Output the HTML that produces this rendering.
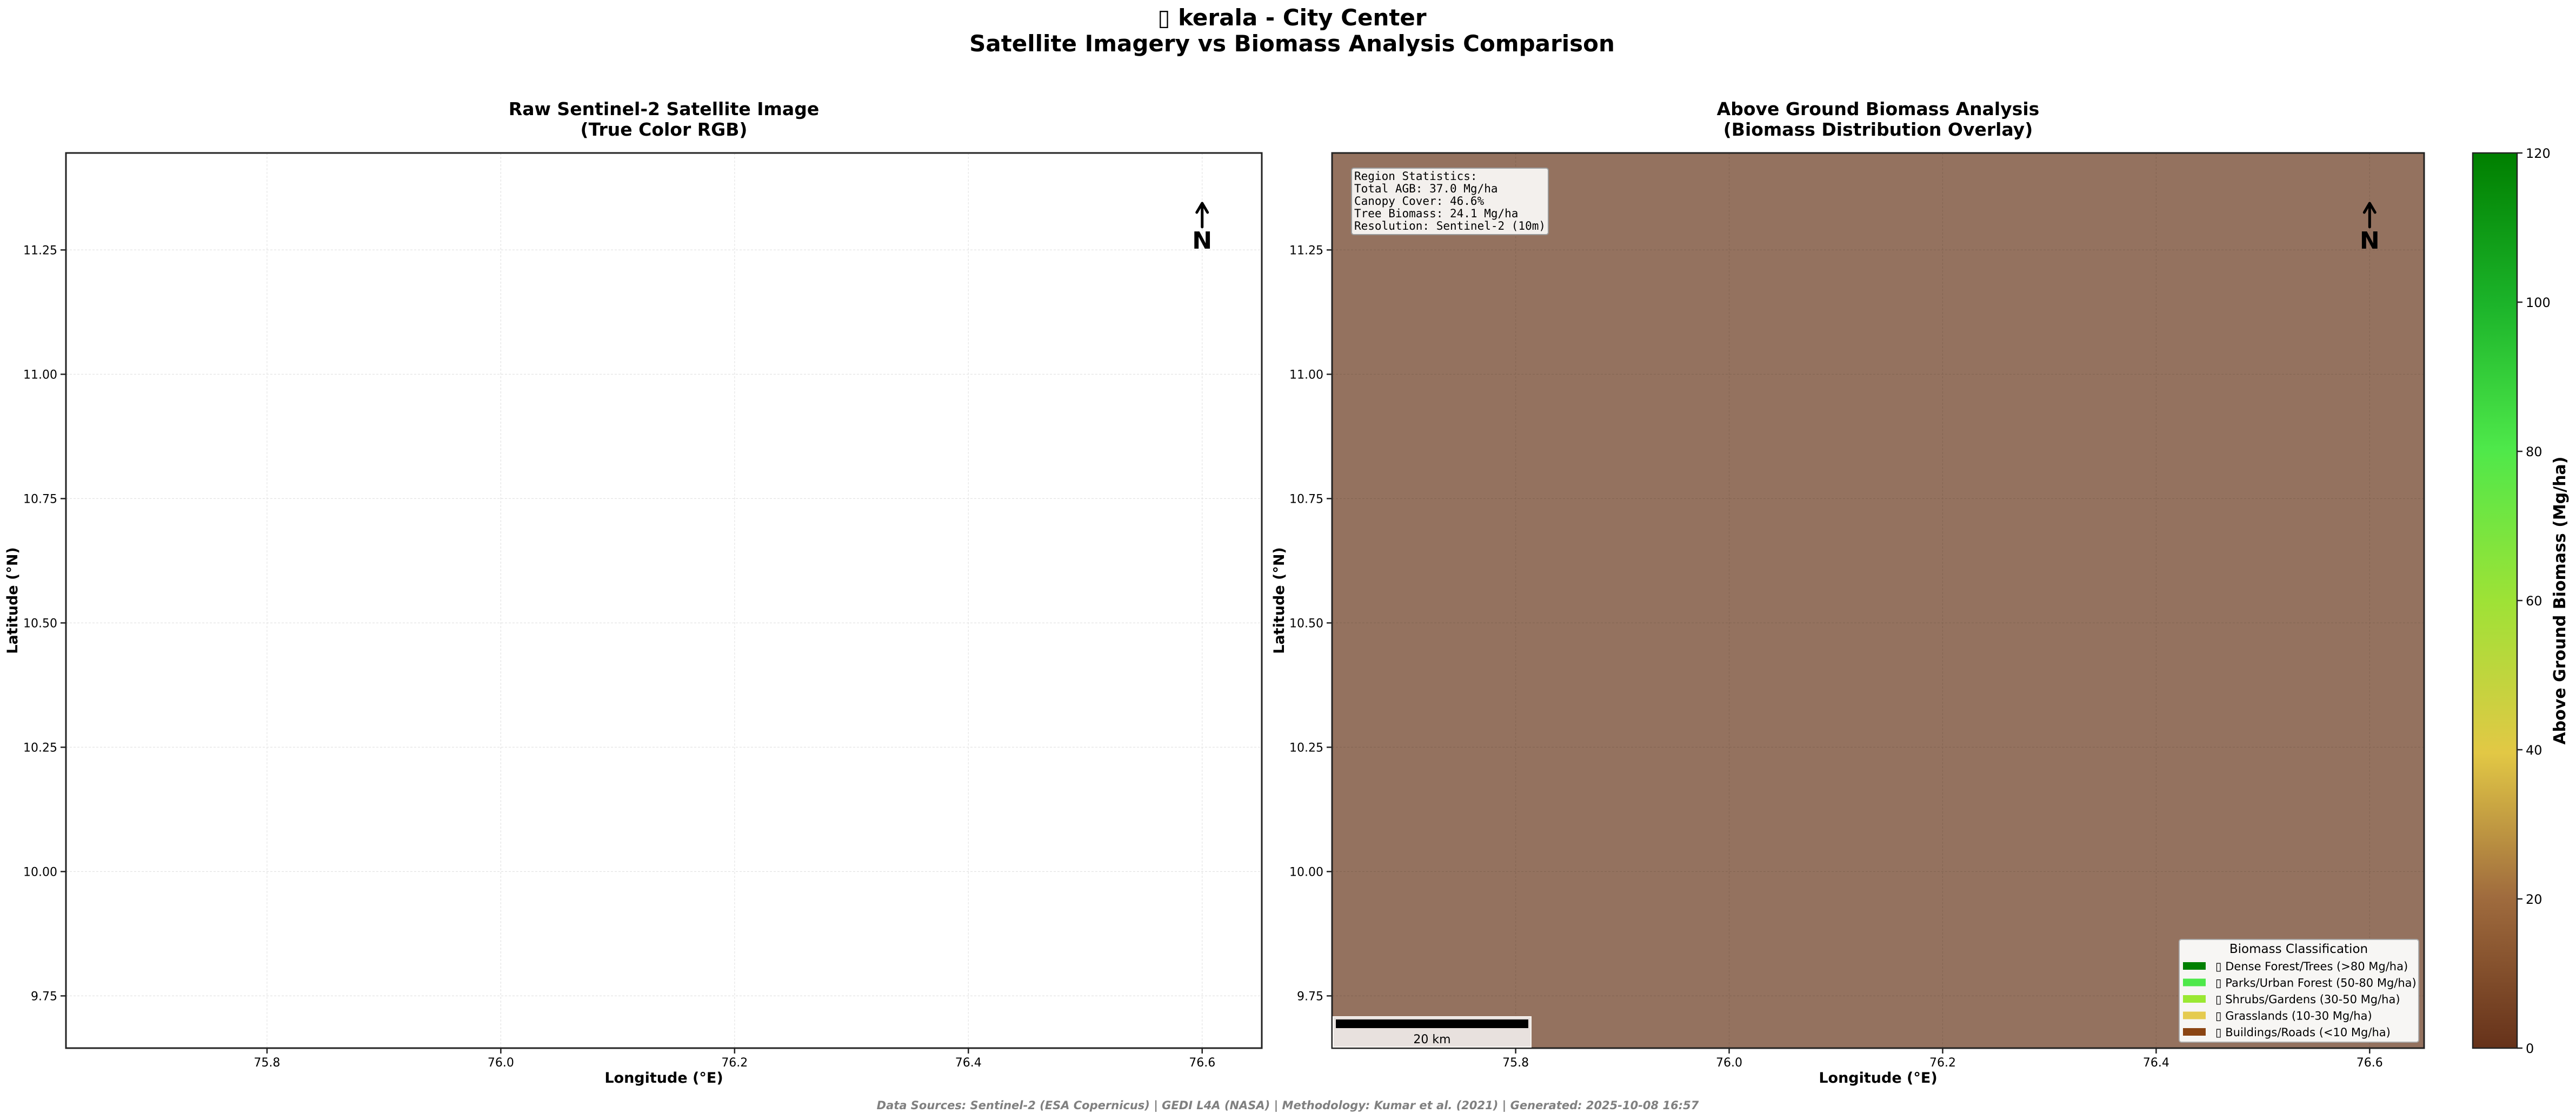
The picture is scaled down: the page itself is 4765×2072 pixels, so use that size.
<!DOCTYPE html>
<html><head><meta charset="utf-8"><style>
html,body{margin:0;padding:0;background:#fff;}
svg{display:block;font-family:"DejaVu Sans","Liberation Sans",sans-serif;}
</style></head><body>
<svg id="fig" width="4765" height="2072" viewBox="0 0 4765 2072" xmlns="http://www.w3.org/2000/svg">
<defs>
<linearGradient id="cbgrad" x1="0" y1="1" x2="0" y2="0">
<stop offset="0" stop-color="#66321a"/>
<stop offset="0.17" stop-color="#a06c3e"/>
<stop offset="0.33" stop-color="#e2c845"/>
<stop offset="0.5" stop-color="#9ee236"/>
<stop offset="0.67" stop-color="#4ee84a"/>
<stop offset="0.83" stop-color="#1cb42a"/>
<stop offset="1" stop-color="#007f00"/>
</linearGradient>
</defs>
<text x="2390" y="47" text-anchor="middle" font-size="42" font-weight="bold">▯ kerala - City Center</text>
<text x="2390" y="95" text-anchor="middle" font-size="42" font-weight="bold">Satellite Imagery vs Biomass Analysis Comparison</text>

<g id="left"></g>
<g id="right"></g>
<g id="cb"></g>

<text x="2382" y="2052" text-anchor="middle" font-size="21" font-weight="bold" font-style="italic" fill="#808080">Data Sources: Sentinel-2 (ESA Copernicus) | GEDI L4A (NASA) | Methodology: Kumar et al. (2021) | Generated: 2025-10-08 16:57</text>
</svg>
<script>
const xTicks = [75.8, 76.0, 76.2, 76.4, 76.6];
const xTickLabels = ["75.8", "76.0", "76.2", "76.4", "76.6"];
const yTicks = [9.75, 10.0, 10.25, 10.5, 10.75, 11.0, 11.25];
const yTickLabels = ["9.75", "10.00", "10.25", "10.50", "10.75", "11.00", "11.25"];
const lonRange = [75.628, 76.651];
const latRange = [9.645, 11.445];
const cbTicks = [0, 20, 40, 60, 80, 100, 120];
const cbRange = [0, 120];
const legendLabels = ["▯ Dense Forest/Trees (>80 Mg/ha)", "▯ Parks/Urban Forest (50-80 Mg/ha)", "▯ Shrubs/Gardens (30-50 Mg/ha)", "▯ Grasslands (10-30 Mg/ha)", "▯ Buildings/Roads (<10 Mg/ha)"];
const legendColors = ["#008000", "#4ee84a", "#9ae832", "#e5cb4f", "#8b4513"];
const statsLines = ["Region Statistics:", "Total AGB: 37.0 Mg/ha", "Canopy Cover: 46.6%", "Tree Biomass: 24.1 Mg/ha", "Resolution: Sentinel-2 (10m)"];

const NS = "http://www.w3.org/2000/svg";
function mk(parent, tag, attrs, text) {
  const e = document.createElementNS(NS, tag);
  for (const k in attrs) e.setAttribute(k, attrs[k]);
  if (text !== undefined) e.textContent = text;
  parent.appendChild(e);
  return e;
}

function drawPanel(g, L, R, T, B, fill, gridColor, titles, ylabX) {
  const sx = v => L + (v - lonRange[0]) / (lonRange[1] - lonRange[0]) * (R - L);
  const sy = v => B - (v - latRange[0]) / (latRange[1] - latRange[0]) * (B - T);
  const bg = mk(g, "rect", {x: L, y: T, width: R - L, height: B - T, fill: fill});
  
  
  xTicks.forEach((v, i) => {
    const x = sx(v);
    const gl = mk(g, "line", {x1: x, x2: x, y1: T, y2: B, stroke: gridColor, "stroke-width": 1.2, "stroke-dasharray": "4,3"});
    
    
    mk(g, "line", {x1: x, x2: x, y1: B, y2: B + 10, stroke: "#222", "stroke-width": 2.5});
    const t = mk(g, "text", {x: x, y: B + 34, "text-anchor": "middle", "font-size": 22}, xTickLabels[i]);
    
    
  });
  yTicks.forEach((v, i) => {
    const y = sy(v);
    const gl = mk(g, "line", {x1: L, x2: R, y1: y, y2: y, stroke: gridColor, "stroke-width": 1.2, "stroke-dasharray": "4,3"});
    
    
    mk(g, "line", {x1: L - 10, x2: L, y1: y, y2: y, stroke: "#222", "stroke-width": 2.5});
    const t = mk(g, "text", {x: L - 16, y: y + 8, "text-anchor": "end", "font-size": 22}, yTickLabels[i]);
    
    
  });
  const fr = mk(g, "rect", {x: L, y: T, width: R - L, height: B - T, fill: "none", stroke: "#222", "stroke-width": 3});
  
  
  const cx = (L + R) / 2;
  const t1 = mk(g, "text", {x: cx, y: 213, "text-anchor": "middle", "font-size": 33, "font-weight": "bold"}, titles[0]);
  
  
  const t2 = mk(g, "text", {x: cx, y: 251, "text-anchor": "middle", "font-size": 33, "font-weight": "bold"}, titles[1]);
  
  
  const xl = mk(g, "text", {x: cx, y: 2003, "text-anchor": "middle", "font-size": 27, "font-weight": "bold"}, "Longitude (°E)");
  
  
  const yl = mk(g, "text", {x: ylabX, y: (T + B) / 2, "text-anchor": "middle", "font-size": 27, "font-weight": "bold", transform: `rotate(-90 ${ylabX} ${(T + B) / 2})`}, "Latitude (°N)");
  
  
  const ax = sx(76.6);
  const na = mk(g, "path", {d: `M${ax} 420 L${ax} 376 M${ax - 10} 393 L${ax} 376 L${ax + 10} 393`, stroke: "#000", "stroke-width": 5, fill: "none", "stroke-linecap": "round", "stroke-linejoin": "round"});
  
  
  const nt = mk(g, "text", {x: ax, y: 460, "text-anchor": "middle", "font-size": 44, "font-weight": "bold"}, "N");
  
  
  return {sx, sy};
}

const T = 283, B = 1939;
drawPanel(document.getElementById("left"), 122, 2334, T, B, "#ffffff", "#e4e4e4", ["Raw Sentinel-2 Satellite Image", "(True Color RGB)"], 32);
const rg = document.getElementById("right");
drawPanel(rg, 2464, 4484, T, B, "#94725f", "#856654", ["Above Ground Biomass Analysis", "(Biomass Distribution Overlay)"], 2375);

const sb = mk(rg, "g", {});


mk(sb, "rect", {x: 2500, y: 311, width: 364, height: 123, rx: 4, fill: "#f3f0ed", stroke: "#999", "stroke-width": 2});
statsLines.forEach((s, i) => {
  const t = mk(sb, "text", {x: 2505, y: 333 + i * 23, "font-size": 21, "font-family": "'DejaVu Sans Mono','Liberation Mono',monospace"}, s);
  
  
});

const sc = mk(rg, "g", {});


mk(sc, "rect", {x: 2466, y: 1881, width: 366, height: 56, fill: "#e8e1de", stroke: "#f8f5f2", "stroke-width": 2});
mk(sc, "rect", {x: 2471, y: 1886, width: 356, height: 16, fill: "#000"});
mk(sc, "text", {x: 2649, y: 1930, "text-anchor": "middle", "font-size": 22}, "20 km");

const lg = mk(rg, "g", {});


mk(lg, "rect", {x: 4031, y: 1738, width: 443, height: 190, rx: 4, fill: "#f7f6f4", stroke: "#aaa", "stroke-width": 2});
const lt = mk(lg, "text", {x: 4252, y: 1763, "text-anchor": "middle", "font-size": 23}, "Biomass Classification");


legendLabels.forEach((s, i) => {
  const y = 1787 + i * 30.5;
  const p = mk(lg, "rect", {x: 4038, y: y - 7, width: 42, height: 14, fill: legendColors[i]});
  
  
  const t = mk(lg, "text", {x: 4098, y: y + 8, "font-size": 21}, s);
  
  
});

const cb = document.getElementById("cb");
const CL = 4574, CR = 4656;
const cy = v => B - (v - cbRange[0]) / (cbRange[1] - cbRange[0]) * (B - T);
mk(cb, "rect", {x: CL, y: T, width: CR - CL, height: B - T, fill: "url(#cbgrad)", stroke: "#222", "stroke-width": 2.5});
cbTicks.forEach(v => {
  const y = cy(v);
  mk(cb, "line", {x1: CR, x2: CR + 10, y1: y, y2: y, stroke: "#222", "stroke-width": 2.5});
  const t = mk(cb, "text", {x: CR + 16, y: y + 9, "font-size": 24}, String(v));
  
  
});
const cl = mk(cb, "text", {x: 4745, y: (T + B) / 2, "text-anchor": "middle", "font-size": 30, "font-weight": "bold", transform: `rotate(-90 4745 ${(T + B) / 2})`}, "Above Ground Biomass (Mg/ha)");


</script>
</body></html>
